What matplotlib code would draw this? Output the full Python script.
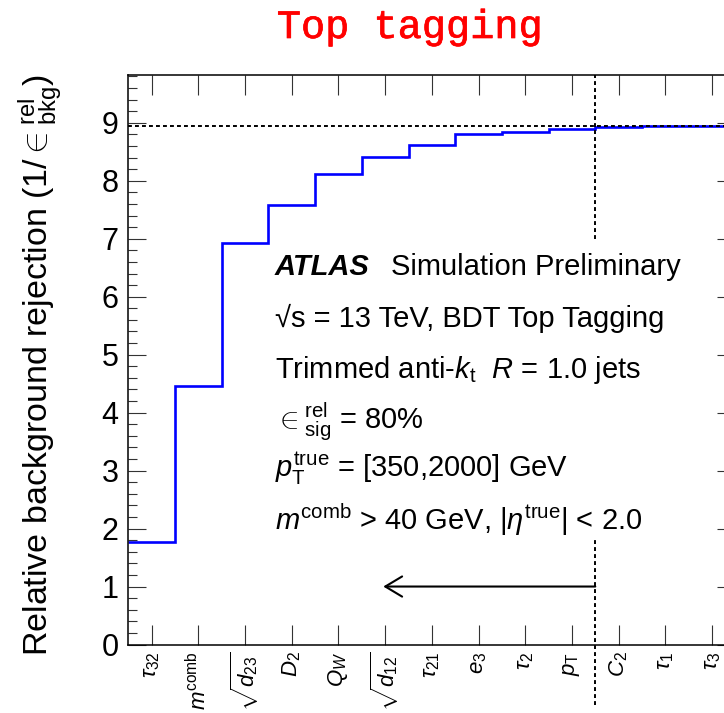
import matplotlib
matplotlib.use("Agg")
import matplotlib.pyplot as plt
import matplotlib.patheffects as pe
import numpy as np

plt.rcParams['font.family'] = ['Liberation Sans', 'DejaVu Sans']
plt.rcParams['mathtext.fontset'] = 'custom'
plt.rcParams['mathtext.rm'] = 'Liberation Sans'
plt.rcParams['mathtext.it'] = 'Liberation Sans:italic'
plt.rcParams['mathtext.bf'] = 'Liberation Sans:bold'

# variables added one by one and the resulting relative rejection
variables = [r'$\tau_{32}$', r'$m^{\rm comb}$', r'$\sqrt{d_{23}}$', r'$D_2$', r'$Q_W$',
             r'$\sqrt{d_{12}}$', r'$\tau_{21}$', r'$e_3$', r'$\tau_2$', r'$p_{\rm T}$',
             r'$C_2$', r'$\tau_1$', r'$\tau_3$']
rejection = [1.77, 4.46, 6.93, 7.59, 8.11, 8.41, 8.62, 8.80, 8.85, 8.90, 8.93, 8.94, 8.95]
plateau = 8.95
cut_index = 10
arrow_tip = 5.46

W, H = 724, 713
fig = plt.figure(figsize=(W / 100, H / 100), dpi=100)
x0, x1 = 128.3, 735.4
y0, y1 = 644.5, 74.7
ax = fig.add_axes([x0 / W, 1 - y0 / H, (x1 - x0) / W, (y0 - y1) / H])

edges = np.arange(len(rejection) + 1)
ax.stairs(rejection, edges, baseline=None, color='#0000ff', lw=1.9)

ax.set_xlim(0, len(rejection))
ax.set_ylim(0, 9.83)

ax.axhline(plateau, color='black', lw=1.4, dashes=(2, 1.6))
ax.plot([cut_index, cut_index], [7.0, 9.83], color='black', lw=1.4, dashes=(2, 1.6))
ax.plot([cut_index, cut_index], [-1.05, 1.8], color='black', lw=1.4, dashes=(2, 1.6),
        clip_on=False)
ax.annotate('', xy=(arrow_tip, 1.0), xytext=(cut_index, 1.0),
            arrowprops=dict(arrowstyle='->,head_length=0.55,head_width=0.33',
                            lw=1.5, color='black', mutation_scale=22,
                            shrinkA=0, shrinkB=0))

ax.set_xticks(edges[:-1] + 0.5)
ax.set_xticklabels(variables, rotation=90, fontsize=16, va='top', ha='center')
ax.set_yticks(range(10))
ax.set_yticks(np.arange(0, 9.83, 0.2), minor=True)
ax.tick_params(axis='x', which='major', direction='in', length=14.4, width=0.8,
               top=True, pad=5, color='#333333')
ax.tick_params(axis='x', which='minor', bottom=False, top=False)
ax.tick_params(axis='y', which='major', direction='in', length=13, width=0.8,
               right=True, labelsize=22, pad=7, color='#333333')
ax.tick_params(axis='y', which='minor', direction='in', length=6.5, width=0.8,
               right=True, color='#333333')
for s in ax.spines.values():
    s.set_linewidth(1.1)

fig.text(40 / W, 1 - 365 / H, r'Relative background rejection (1/$\in^{\rm rel}_{\rm bkg}$)',
         rotation=90, ha='center', va='center', fontsize=24.5)

fig.text(409.5 / W, 1 - 27 / H, 'Top tagging', color='#ff0000', fontsize=29,
         family='Liberation Mono', ha='center', va='center',
         path_effects=[pe.withStroke(linewidth=0.5, foreground='#ff0000')])

tx = 275 / W
fig.text(tx, 1 - 274.7 / H, 'ATLAS', fontsize=21, fontweight='bold', style='italic',
         va='baseline')
fig.text(390.6 / W, 1 - 274.7 / H, 'Simulation Preliminary', fontsize=21, va='baseline')
lines = ['\u221as = 13 TeV, BDT Top Tagging',
         r'Trimmed anti-$k_{\rm t}$  $R$ = 1.0 jets',
         r'$\in^{\rm rel}_{\rm sig}$ = 80%',
         r'$p_{\rm T}^{\rm true}$ = [350,2000] GeV',
         r'$m^{\rm comb}$ > 40 GeV, |$\eta^{\rm true}$| < 2.0']
baselines = [326.9, 378, 428.6, 477, 530]
for txt, b in zip(lines, baselines):
    fig.text(tx, 1 - b / H, txt, fontsize=21, va='baseline')

fig.savefig('out.png', dpi=100)
